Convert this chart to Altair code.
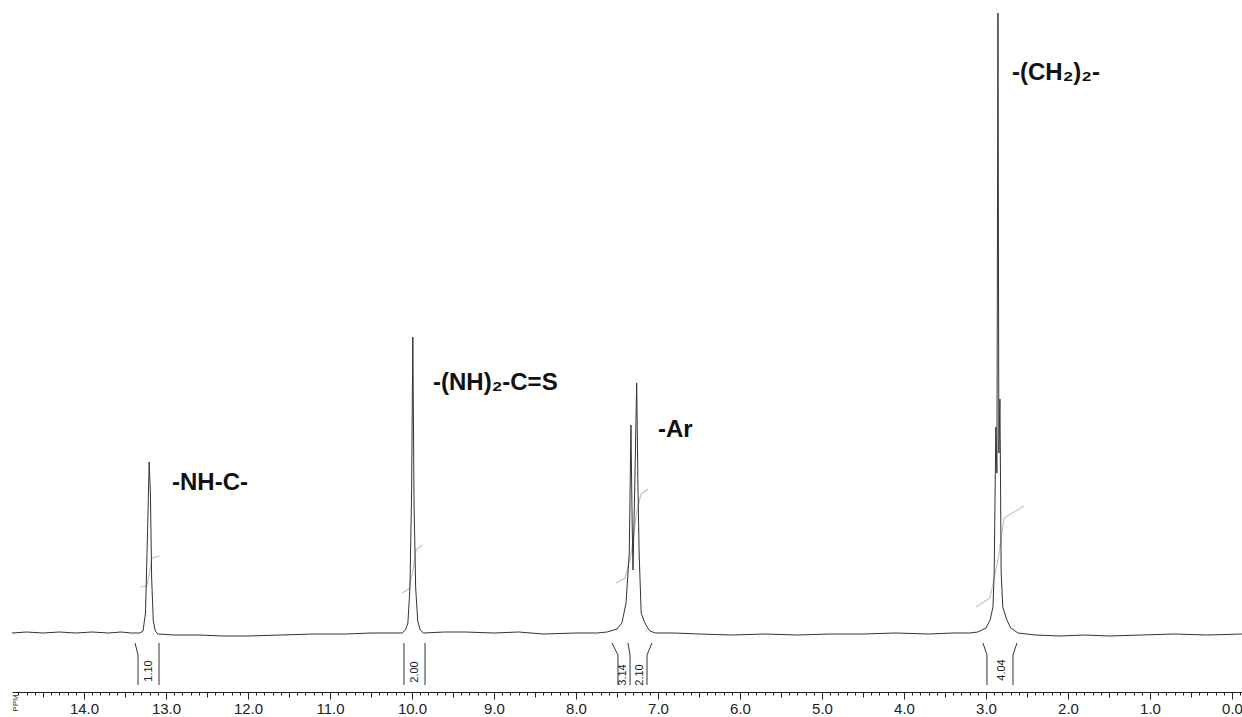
import altair as alt
import pandas as pd

# ---------------- data ----------------
# spectrum trace: chemical shift (ppm) and intensity (pixels above baseline)
SPEC_PPM = [
    14.878, 14.7, 14.5, 14.3, 14.1, 13.9, 13.7, 13.55, 13.42,
    13.32, 13.28, 13.25, 13.225, 13.205, 13.19, 13.175, 13.155, 13.13, 13.10,
    12.9, 12.6, 12.3, 12.0, 11.6, 11.2, 10.8, 10.5, 10.2,
    10.12, 10.08, 10.05, 10.025, 10.005, 9.99, 9.975, 9.955, 9.93, 9.90, 9.86,
    9.6, 9.35, 9.0, 8.7, 8.4, 8.0, 7.75,
    7.62, 7.50, 7.44, 7.39, 7.35, 7.33, 7.315, 7.305, 7.285, 7.26, 7.245, 7.23, 7.205, 7.17, 7.14, 7.10, 7.03,
    6.8, 6.5, 6.1, 5.7, 5.3, 4.9, 4.5, 4.1, 3.7, 3.4, 3.2,
    3.10, 3.00, 2.95, 2.915, 2.90, 2.88, 2.867, 2.854, 2.843, 2.83, 2.815, 2.795, 2.745, 2.70, 2.61,
    2.4, 2.1, 1.8, 1.5, 1.1, 0.7, 0.3, -0.122,
]
SPEC_INT = [
    0, 1, 0, 1, 0, 1, 0, 1, 0,
    0, 2, 20, 100, 171, 140, 55, 12, 2, -1,
    -2, -2, -3, -3, -2, -1, -1, 0, 0,
    0, 3, 10, 45, 140, 296, 130, 45, 12, 3, 0,
    1, 1, 0, 1, -1, 0, 0,
    1, 4, 10, 30, 80, 208, 110, 63, 140, 250, 150, 80, 20, 12, 7, 2, 0,
    0, -1, -2, -1, -2, -1, -1, 0, -1, 0, 0,
    1, 5, 13, 26, 60, 206, 160, 620, 180, 234, 60, 26, 13, 5, 0,
    -2, -3, -2, -3, -2, -1, -2, -1,
]

# integral curves (light grey), one list per multiplet
INTEGRAL_CURVES = {
    "NH-C": ([13.317, 13.232, 13.195, 13.171, 13.073], [46, 47, 63, 75, 77]),
    "NH2": ([10.122, 10.037, 9.988, 9.951, 9.878], [40, 44, 63, 83, 88]),
    "Ar": ([7.512, 7.402, 7.329, 7.256, 7.207, 7.122], [50, 55, 78, 123, 139, 144]),
    "CH2": ([3.122, 2.951, 2.854, 2.780, 2.537], [26, 35, 73, 115, 127]),
}

# integration brackets: ppm at the top of each stroke and ppm of the vertical stroke
BRACKET_TOP_PPM = [13.378, 13.085, 10.098, 9.841, 7.561, 7.366, 7.073, 3.037, 2.622]
BRACKET_PPM = [13.341, 13.085, 10.098, 9.841, 7.488, 7.341, 7.134, 2.988, 2.671]
BRACKET_LEVELS = [-10, -22, -52]

# integration values
INT_TEXT = ["1.10", "2.00", "3.14", "2.10", "4.04"]
INT_PPM = [13.207, 9.963, 7.421, 7.22, 2.805]
INT_LEVEL = [-38, -39, -42, -42, -37]

# group labels
LABELS = ["-NH-C-", "-(NH)\u2082-C=S", "-Ar", "-(CH\u2082)\u2082-"]
LABEL_PPM = [12.927, 9.744, 7.0, 2.683]
LABEL_LEVEL = [143, 243, 196, 553]

# axis ticks
TICKS = [round(i * 0.1, 1) for i in range(-1, 149)]
PPM_DOMAIN = [-0.122, 14.878]
INT_DOMAIN = [-59, 633]

# ---------------- tables ----------------
spec = pd.DataFrame({"ppm": SPEC_PPM, "intensity": SPEC_INT, "order": range(len(SPEC_PPM))})

rows = []
for name, (xs, ys) in INTEGRAL_CURVES.items():
    for i, (x, y) in enumerate(zip(xs, ys)):
        rows.append({"curve": name, "ppm": x, "intensity": y, "order": i})
integ = pd.DataFrame(rows)

rows = []
for k, (top, p) in enumerate(zip(BRACKET_TOP_PPM, BRACKET_PPM)):
    pts = [top, p, p]
    for i, (x, y) in enumerate(zip(pts, BRACKET_LEVELS)):
        rows.append({"bracket": k, "ppm": x, "intensity": y, "order": i})
brackets = pd.DataFrame(rows)

intlab = pd.DataFrame({"text": INT_TEXT, "ppm": INT_PPM, "intensity": INT_LEVEL})
labels = pd.DataFrame({"text": LABELS, "ppm": LABEL_PPM, "intensity": LABEL_LEVEL})
ppmlab = pd.DataFrame({"text": ["PPM"], "ppm": [14.83], "intensity": [-70]})

major = "abs(datum.value - round(datum.value)) < 0.001"
half = "abs(datum.value * 2 - round(datum.value * 2)) < 0.001"

xscale = alt.Scale(domain=PPM_DOMAIN, reverse=True, nice=False, zero=False)
yscale = alt.Scale(domain=INT_DOMAIN, nice=False, zero=False)

x_axis = alt.Axis(
    values=TICKS,
    labelExpr=f"{major} ? format(datum.value, '.1f') : ''",
    tickSize={"condition": [{"test": major, "value": 7}, {"test": half, "value": 5}], "value": 3},
    tickColor="#222",
    domainColor="#222",
    domainWidth=1,
    tickWidth=1,
    grid=False,
    title=None,
    labelFont="Liberation Sans",
    labelFontSize=15,
    labelColor="#222",
    labelPadding=2,
    labelOverlap=False,
    labelFlush=False,
    labelBound=False,
)


def xenc():
    return alt.X("ppm:Q", scale=xscale, axis=x_axis)


yenc = alt.Y("intensity:Q", scale=yscale, axis=None)

spectrum = alt.Chart(spec).mark_line(color="#333", strokeWidth=1).encode(
    x=xenc(), y=yenc, order="order:Q"
)

integral = alt.Chart(integ).mark_line(color="#c4c4c4", strokeWidth=1.2).encode(
    x=xenc(), y=yenc, detail="curve:N", order="order:Q"
)

bracket = alt.Chart(brackets).mark_line(color="#333", strokeWidth=1).encode(
    x=xenc(), y=yenc, detail="bracket:N", order="order:Q"
)

int_text = alt.Chart(intlab).mark_text(
    angle=270, align="center", baseline="middle", font="Liberation Sans", fontSize=11, color="#222"
).encode(x=xenc(), y=yenc, text="text:N")

group_text = alt.Chart(labels).mark_text(
    align="left", baseline="alphabetic", font="Liberation Sans", fontSize=24,
    fontWeight="bold", color="#111"
).encode(x=xenc(), y=yenc, text="text:N")

ppm_text = alt.Chart(ppmlab).mark_text(
    angle=270, align="center", baseline="middle", font="Liberation Sans", fontSize=8, color="#333"
).encode(x=xenc(), y=yenc, text="text:N")

chart = alt.layer(integral, spectrum, bracket, int_text, group_text, ppm_text).properties(
    width=1230,
    height=692,
    autosize=alt.AutoSizeParams(type="none"),
    padding={"left": 12, "top": 0, "right": 0, "bottom": 25},
    background="white",
).configure_view(stroke=None)

chart.save("out.html", embed_options={"renderer": "svg", "actions": False})
